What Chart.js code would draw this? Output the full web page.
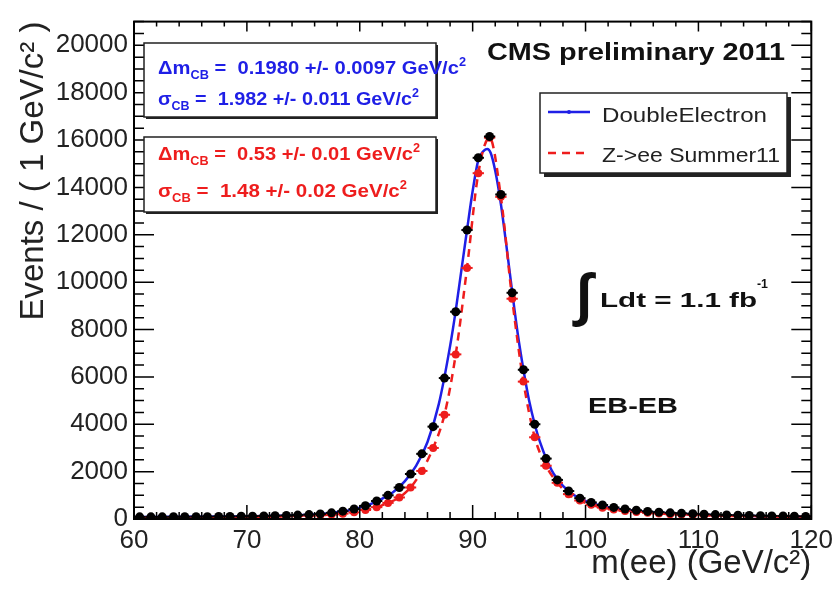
<!DOCTYPE html>
<html>
<head>
<meta charset="utf-8">
<script src="https://cdn.jsdelivr.net/npm/chart.js@4.4.0/dist/chart.umd.min.js"></script>
<style>
  html, body { margin: 0; padding: 0; background: #fff; }
  #wrap { width: 839px; height: 592px; }
</style>
</head>
<body>
<div id="wrap"><canvas id="myChart" width="839" height="592"></canvas></div>
<script>
// bin centres (1 GeV bins)
const binCenters = [60.5, 61.5, 62.5, 63.5, 64.5, 65.5, 66.5, 67.5, 68.5, 69.5,
  70.5, 71.5, 72.5, 73.5, 74.5, 75.5, 76.5, 77.5, 78.5, 79.5,
  80.5, 81.5, 82.5, 83.5, 84.5, 85.5, 86.5, 87.5, 88.5, 89.5,
  90.5, 91.5, 92.5, 93.5, 94.5, 95.5, 96.5, 97.5, 98.5, 99.5,
  100.5, 101.5, 102.5, 103.5, 104.5, 105.5, 106.5, 107.5, 108.5, 109.5,
  110.5, 111.5, 112.5, 113.5, 114.5, 115.5, 116.5, 117.5, 118.5, 119.5];

// DoubleElectron data (black)
const dataCounts = [90, 90, 90, 95, 95, 100, 100, 105, 110, 115,
  120, 130, 140, 150, 165, 185, 215, 260, 330, 420,
  560, 760, 1000, 1330, 1900, 2750, 3900, 5950, 8750, 12200,
  15250, 16150, 13700, 9550, 6300, 4000, 2550, 1650, 1180, 880,
  700, 590, 490, 420, 370, 320, 290, 260, 240, 220,
  200, 185, 170, 160, 150, 140, 130, 125, 115, 110];

// Z->ee Summer11 MC (red)
const mcCounts = [55, 55, 60, 60, 65, 65, 70, 75, 80, 85,
  90, 95, 105, 115, 125, 140, 160, 185, 225, 280,
  380, 500, 680, 910, 1330, 2030, 3000, 4400, 6950, 10600,
  14600, 16100, 13600, 9300, 5800, 3450, 2250, 1530, 1050, 780,
  600, 480, 400, 340, 300, 260, 230, 205, 185, 170,
  155, 145, 135, 125, 118, 110, 105, 100, 95, 90];

// fitted curve on data (blue)
const fitX = [60, 64, 68, 72, 75, 77, 79, 80, 81, 82, 83, 84, 85, 86, 87, 88, 88.5, 89, 89.5, 90,
  90.5, 91, 91.3, 91.6, 92, 92.5, 93, 93.5, 94, 94.5, 95, 95.5, 96, 97, 98, 99, 100, 102, 105, 110, 115, 120];
const fitY = [80, 90, 105, 130, 170, 230, 360, 480, 640, 860, 1150, 1600, 2250, 3250, 4850, 7300, 8800, 10500, 12200, 13850,
  15150, 15550, 15620, 15450, 14700, 13300, 11500, 9600, 7800, 6300, 5000, 4000, 3200, 2050, 1400, 1000, 760, 500, 320, 190, 130, 100];

const xTicks = [60, 70, 80, 90, 100, 110, 120];
const yTicks = [0, 2000, 4000, 6000, 8000, 10000, 12000, 14000, 16000, 18000, 20000];

const FONT = "'Liberation Sans', Arial, sans-serif";
const BLUE = "#1f1fe6";
const RED = "#ee1d1d";

function pts(xs, ys) {
  return xs.map((x, i) => ({ x: x, y: ys[i] }));
}

// text with a horizontal stretch so it fills a given width
function richText(ctx, x, y, parts, color, width) {
  ctx.save();
  let total = 0;
  for (const p of parts) {
    ctx.font = p.font;
    total += ctx.measureText(p.t).width;
  }
  const sx = width ? width / total : 1;
  ctx.translate(x, y);
  ctx.scale(sx, 1);
  ctx.fillStyle = color;
  ctx.textBaseline = "alphabetic";
  ctx.textAlign = "left";
  let cx = 0;
  for (const p of parts) {
    ctx.font = p.font;
    ctx.fillText(p.t, cx, p.dy || 0);
    cx += ctx.measureText(p.t).width;
  }
  ctx.restore();
}

function box(ctx, x0, y0, x1, y1, shadow) {
  ctx.save();
  ctx.fillStyle = "#222";
  ctx.fillRect(x0 + shadow, y0 + shadow, x1 - x0, y1 - y0);
  ctx.fillStyle = "#fff";
  ctx.fillRect(x0, y0, x1 - x0, y1 - y0);
  ctx.strokeStyle = "#222";
  ctx.lineWidth = 1.5;
  ctx.strokeRect(x0, y0, x1 - x0, y1 - y0);
  ctx.restore();
}

// horizontal bin-width bars on the marker datasets
const binBars = {
  id: "binBars",
  afterDatasetDraw(chart, args) {
    const ds = chart.data.datasets[args.index];
    if (!ds.binBars) return;
    const ctx = chart.ctx;
    const xs = chart.scales.x, ys = chart.scales.y;
    ctx.save();
    ctx.strokeStyle = ds.backgroundColor;
    ctx.lineWidth = 2;
    ds.data.forEach(p => {
      const yp = ys.getPixelForValue(p.y);
      ctx.beginPath();
      ctx.moveTo(xs.getPixelForValue(p.x - 0.5), yp);
      ctx.lineTo(xs.getPixelForValue(p.x + 0.5), yp);
      ctx.stroke();
    });
    ctx.restore();
  }
};

// ROOT style frame with inward ticks on all four sides
const frame = {
  id: "frame",
  afterDatasetsDraw(chart) {
    const ctx = chart.ctx;
    const a = chart.chartArea;
    const xs = chart.scales.x, ys = chart.scales.y;
    ctx.save();
    ctx.strokeStyle = "#000";
    ctx.lineWidth = 1.5;
    ctx.beginPath();
    for (let v = 60; v <= 120; v += 2) {
      const px = xs.getPixelForValue(v);
      const major = v % 10 === 0;
      ctx.moveTo(px, a.bottom); ctx.lineTo(px, a.bottom - (major ? 14 : 7));
      ctx.moveTo(px, a.top); ctx.lineTo(px, a.top + (major ? 10 : 5));
    }
    for (let v = 0; v <= 21000; v += 500) {
      const py = ys.getPixelForValue(v);
      const major = v % 2000 === 0;
      ctx.moveTo(a.left, py); ctx.lineTo(a.left + (major ? 20 : 10), py);
      ctx.moveTo(a.right, py); ctx.lineTo(a.right - (major ? 20 : 10), py);
    }
    ctx.stroke();
    ctx.lineWidth = 2;
    ctx.strokeRect(a.left, a.top, a.right - a.left, a.bottom - a.top);
    ctx.restore();
  }
};

// text boxes, legend and labels
const annotations = {
  id: "annotations",
  afterDraw(chart) {
    const ctx = chart.ctx;
    const big = "bold 19px " + FONT;
    const sub = "bold 12px " + FONT;

    box(ctx, 144, 43, 436, 117, 2);
    richText(ctx, 158, 74, [{ t: "\u0394m", font: big }, { t: "CB", font: sub, dy: 5 },
      { t: " =  0.1980 +/- 0.0097 GeV/c", font: big }, { t: "2", font: sub, dy: -8 }], BLUE, 308);
    richText(ctx, 158, 105, [{ t: "\u03c3", font: big }, { t: "CB", font: sub, dy: 5 },
      { t: " =  1.982 +/- 0.011 GeV/c", font: big }, { t: "2", font: sub, dy: -8 }], BLUE, 261);

    box(ctx, 144, 137, 436, 212, 2);
    richText(ctx, 158, 160, [{ t: "\u0394m", font: big }, { t: "CB", font: sub, dy: 5 },
      { t: " =  0.53 +/- 0.01 GeV/c", font: big }, { t: "2", font: sub, dy: -8 }], RED, 262);
    richText(ctx, 158, 197, [{ t: "\u03c3", font: big }, { t: "CB", font: sub, dy: 5 },
      { t: " =  1.48 +/- 0.02 GeV/c", font: big }, { t: "2", font: sub, dy: -8 }], RED, 249);

    richText(ctx, 487, 60, [{ t: "CMS preliminary 2011", font: "bold 24px " + FONT }], "#111", 298);

    // legend
    box(ctx, 540, 93, 787, 173, 4);
    const entries = [chart.data.datasets[3], chart.data.datasets[2]];
    const rows = [112, 153];
    entries.forEach((ds, i) => {
      ctx.save();
      ctx.strokeStyle = ds.borderColor;
      ctx.lineWidth = 2.5;
      ctx.setLineDash(ds.borderDash || []);
      ctx.beginPath();
      ctx.moveTo(548, rows[i]);
      ctx.lineTo(590, rows[i]);
      ctx.stroke();
      if (!ds.borderDash) {
        ctx.fillStyle = ds.borderColor;
        ctx.beginPath();
        ctx.arc(569, rows[i], 2, 0, Math.PI * 2);
        ctx.fill();
      }
      ctx.restore();
    });
    richText(ctx, 602, 122, [{ t: entries[0].label, font: "21px " + FONT }], "#222", 165);
    richText(ctx, 602, 162, [{ t: entries[1].label, font: "21px " + FONT }], "#222", 178);

    // integrated luminosity and category
    richText(ctx, 576, 314, [{ t: "\u222b", font: "bold 58px " + FONT }], "#111");
    richText(ctx, 600, 307, [{ t: "Ldt = 1.1 fb", font: "bold 21px " + FONT }], "#111", 157);
    richText(ctx, 757, 288, [{ t: "-1", font: "bold 13px " + FONT }], "#111", 11);
    richText(ctx, 588, 413, [{ t: "EB-EB", font: "bold 22px " + FONT }], "#111", 90);
  }
};

let chart;

function initChart() {
  const ctx = document.getElementById("myChart");

  chart = new Chart(ctx, {
    type: "scatter",
    data: {
      datasets: [
        {
          label: "DoubleElectron data",
          data: pts(binCenters, dataCounts),
          backgroundColor: "#000",
          borderColor: "#000",
          pointRadius: 4.5,
          pointBorderWidth: 0,
          showLine: false,
          binBars: true
        },
        {
          label: "Z->ee Summer11 points",
          data: pts(binCenters, mcCounts),
          backgroundColor: RED,
          borderColor: RED,
          pointRadius: 4,
          pointBorderWidth: 0,
          showLine: false,
          binBars: true
        },
        {
          label: "Z->ee Summer11",
          data: pts(binCenters, mcCounts),
          borderColor: RED,
          backgroundColor: RED,
          borderWidth: 2.5,
          borderDash: [8, 6],
          pointRadius: 0,
          showLine: true,
          cubicInterpolationMode: "monotone"
        },
        {
          label: "DoubleElectron",
          data: pts(fitX, fitY),
          borderColor: BLUE,
          backgroundColor: BLUE,
          borderWidth: 2.5,
          pointRadius: 0,
          showLine: true,
          cubicInterpolationMode: "monotone"
        }
      ]
    },
    options: {
      responsive: false,
      animation: false,
      layout: { padding: { left: 0, top: 12, right: 27, bottom: 0 } },
      plugins: {
        legend: { display: false },
        tooltip: { enabled: false }
      },
      scales: {
        x: {
          type: "linear",
          min: 60,
          max: 120,
          grid: { display: false, drawTicks: false },
          border: { display: false },
          afterBuildTicks: s => { s.ticks = xTicks.map(v => ({ value: v })); },
          afterFit: s => { s.height = 73; },
          ticks: {
            autoSkip: false,
            maxRotation: 0,
            padding: 6,
            color: "#222",
            font: { family: FONT, size: 26 },
            callback: v => String(v)
          },
          title: {
            display: true,
            text: "m(ee) (GeV/c\u00b2)",
            align: "end",
            color: "#222",
            font: { family: FONT, size: 33 },
            padding: { top: 0, bottom: 8 }
          }
        },
        y: {
          min: 0,
          max: 21000,
          grid: { display: false, drawTicks: false },
          border: { display: false },
          afterBuildTicks: s => { s.ticks = yTicks.map(v => ({ value: v })); },
          afterFit: s => { s.width = 134; },
          ticks: {
            padding: 6,
            color: "#222",
            font: { family: FONT, size: 26 },
            callback: v => String(v)
          },
          title: {
            display: true,
            text: "Events / ( 1 GeV/c\u00b2 )",
            align: "end",
            color: "#222",
            font: { family: FONT, size: 33 },
            padding: { top: 14, bottom: 0 }
          }
        }
      }
    },
    plugins: [binBars, frame, annotations]
  });
}

window.onload = () => {
  initChart();
};
</script>
</body>
</html>
